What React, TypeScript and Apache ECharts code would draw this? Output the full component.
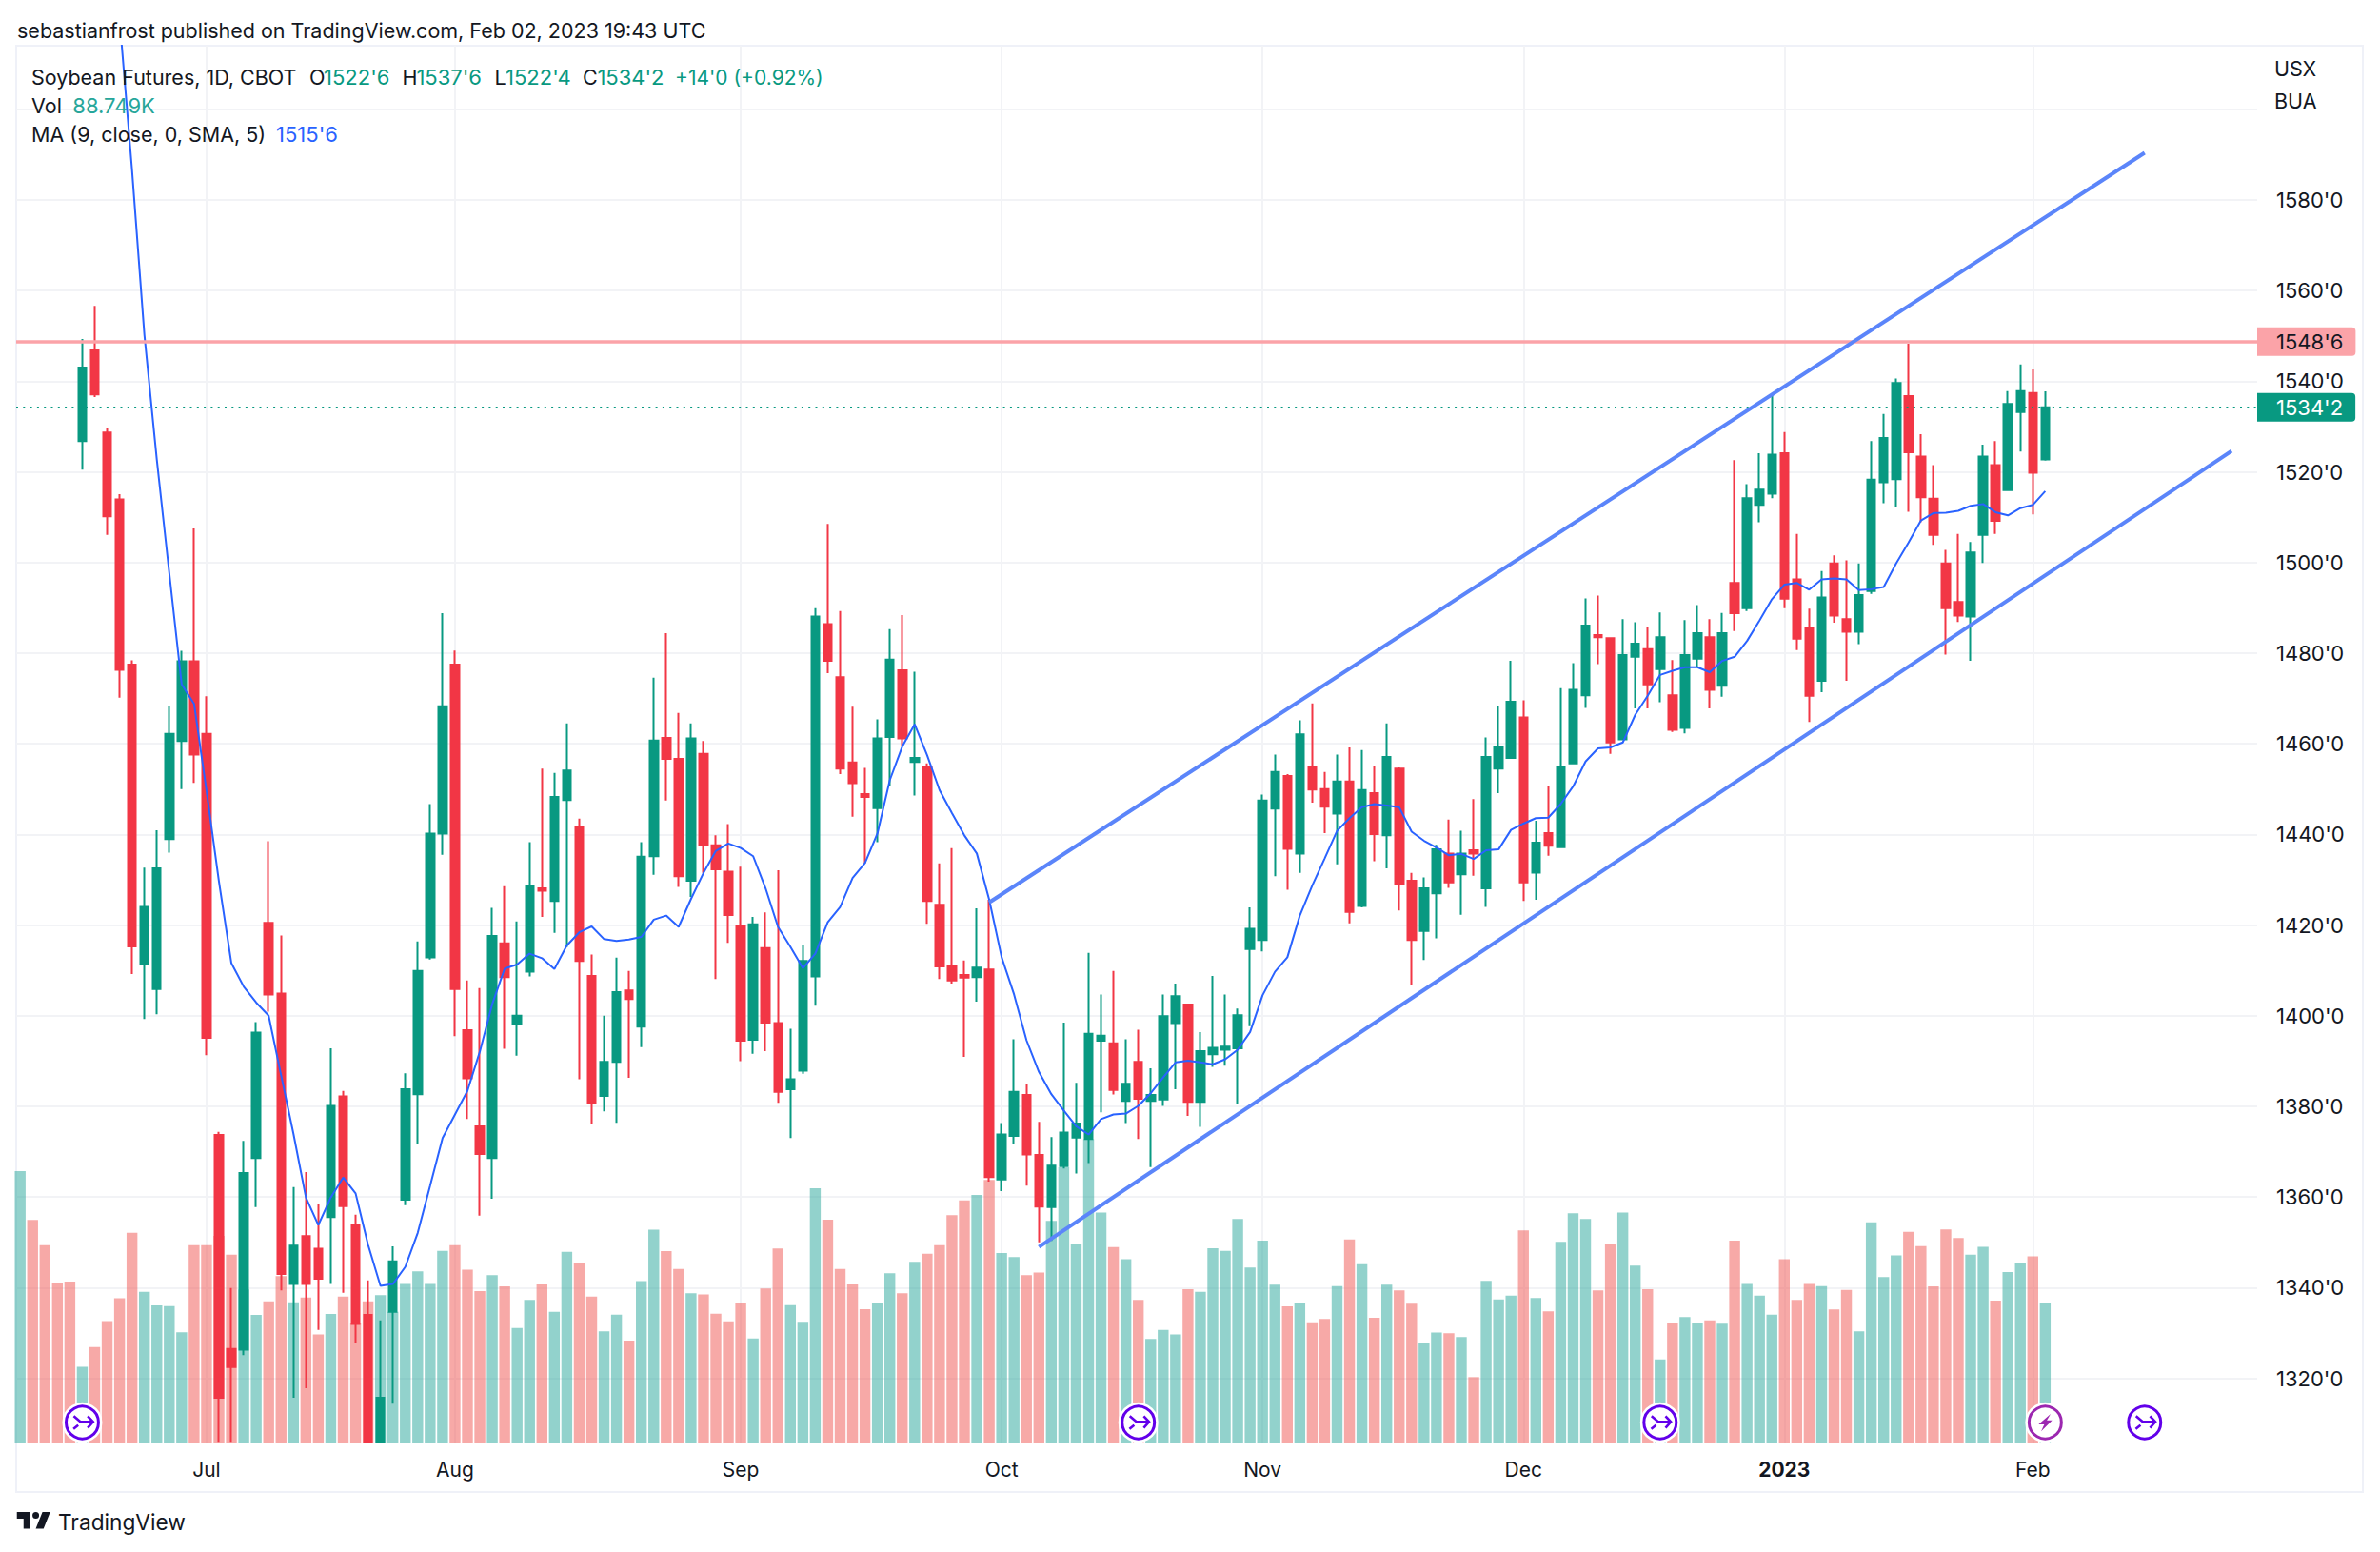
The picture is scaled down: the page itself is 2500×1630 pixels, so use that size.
import React, { useEffect, useRef } from "react";
import * as echarts from "echarts";

const GREEN = "#089981";
const RED = "#F23645";
const INK = "#131722";
const FONT = "Inter";

// One entry per session; the first five sessions trade above the visible price range.
const opens: (number | null)[] = [
  null, null, null, null, null,
  1526.8, 1546.8, 1528.7, 1513.9, 1477.5, 1411.3, 1405.9, 1439.0, 1460.6, 1478.2, 1462.2, 1373.7, 1326.5, 1326.3, 1368.6,
  1420.5, 1404.9, 1340.8, 1351.4, 1348.6, 1355.6, 1382.2, 1353.8, 1334.0, 1306.0, 1334.7, 1359.4, 1382.7, 1412.9, 1440.2, 1477.5,
  1396.8, 1375.6, 1368.6, 1416.0, 1398.2, 1409.7, 1428.1, 1425.3, 1447.6, 1441.6, 1408.8, 1382.3, 1389.8, 1405.6, 1397.6, 1435.2,
  1461.3, 1456.7, 1429.8, 1457.8, 1437.6, 1431.8, 1419.9, 1394.7, 1414.9, 1398.4, 1383.8, 1387.9, 1408.7, 1486.4, 1474.7, 1455.9,
  1448.9, 1445.8, 1461.5, 1476.2, 1456.0, 1454.8, 1424.5, 1411.0, 1409.0, 1408.5, 1410.2, 1363.9, 1373.5, 1382.5, 1369.3, 1357.8,
  1366.8, 1373.1, 1372.8, 1394.5, 1393.9, 1381.2, 1389.8, 1381.2, 1381.5, 1398.4, 1402.5, 1381.0, 1391.5, 1392.5, 1392.8, 1414.7,
  1416.7, 1445.7, 1452.9, 1435.8, 1454.8, 1450.0, 1444.6, 1451.7, 1424.2, 1449.1, 1439.8, 1454.5, 1429.8, 1418.7, 1427.0, 1435.8,
  1431.2, 1436.5, 1428.1, 1454.5, 1456.9, 1465.8, 1431.6, 1440.3, 1437.2, 1455.7, 1470.7, 1484.0, 1483.3, 1461.0, 1479.2, 1480.9,
  1476.5, 1470.7, 1463.5, 1478.8, 1483.5, 1472.8, 1495.5, 1489.9, 1512.7, 1515.2, 1524.1, 1496.3, 1485.5, 1473.9, 1499.8, 1487.5,
  1484.7, 1493.7, 1517.7, 1518.4, 1536.7, 1523.4, 1514.1, 1499.8, 1491.3, 1488.1, 1506.1, 1521.5, 1516.0, 1533.2, 1537.4, 1522.75,
];
const closes: (number | null)[] = [
  null, null, null, null, null,
  1543.0, 1537.1, 1510.2, 1476.3, 1415.3, 1424.0, 1432.5, 1462.2, 1478.2, 1457.6, 1395.1, 1315.7, 1322.5, 1365.3, 1396.3,
  1404.7, 1343.0, 1349.3, 1340.8, 1342.0, 1380.1, 1358.0, 1332.0, 1306.0, 1315.7, 1345.8, 1383.8, 1409.9, 1440.2, 1468.3, 1405.9,
  1386.2, 1369.5, 1417.6, 1408.5, 1400.0, 1428.6, 1427.6, 1448.3, 1454.1, 1412.1, 1380.8, 1389.8, 1405.2, 1403.7, 1435.1, 1460.7,
  1456.7, 1430.8, 1461.2, 1437.6, 1432.3, 1422.2, 1394.5, 1420.2, 1398.5, 1383.2, 1386.0, 1412.1, 1488.1, 1478.3, 1454.5, 1451.3,
  1448.3, 1461.2, 1478.6, 1461.2, 1456.9, 1425.3, 1410.9, 1407.8, 1408.4, 1410.6, 1364.4, 1373.8, 1383.2, 1369.4, 1357.9, 1366.9,
  1374.2, 1376.2, 1396.0, 1395.6, 1383.6, 1385.0, 1381.7, 1382.5, 1399.9, 1404.3, 1381.0, 1392.2, 1392.9, 1393.2, 1400.1, 1419.2,
  1447.5, 1453.8, 1436.8, 1462.1, 1449.9, 1446.1, 1451.7, 1422.9, 1449.8, 1440.1, 1457.1, 1429.1, 1416.7, 1428.1, 1436.7, 1429.4,
  1435.8, 1435.8, 1457.1, 1459.3, 1469.3, 1429.4, 1438.2, 1437.5, 1454.8, 1471.9, 1486.1, 1483.5, 1460.3, 1479.6, 1482.1, 1473.1,
  1483.5, 1463.1, 1479.6, 1484.4, 1471.9, 1484.4, 1488.8, 1514.2, 1516.1, 1523.8, 1492.0, 1483.2, 1470.6, 1492.3, 1488.3, 1484.7,
  1492.8, 1518.3, 1527.5, 1539.6, 1524.3, 1514.4, 1506.1, 1489.9, 1488.3, 1502.2, 1523.4, 1509.2, 1535.0, 1537.8, 1519.8, 1534.25,
];
const lows: (number | null)[] = [
  null, null, null, null, null,
  1520.5, 1536.5, 1506.1, 1470.2, 1409.2, 1399.3, 1400.3, 1436.0, 1450.0, 1451.4, 1391.3, 1306.0, 1306.0, 1325.1, 1357.8,
  1400.9, 1339.4, 1315.7, 1317.8, 1330.7, 1340.8, 1338.9, 1327.7, 1306.0, 1306.0, 1314.4, 1358.2, 1371.8, 1412.4, 1435.5, 1395.5,
  1377.2, 1355.9, 1359.6, 1392.7, 1391.2, 1408.7, 1421.8, 1418.3, 1415.2, 1386.0, 1376.0, 1378.9, 1376.4, 1386.3, 1393.1, 1431.1,
  1447.5, 1428.4, 1426.2, 1431.5, 1408.1, 1416.1, 1390.0, 1391.6, 1392.2, 1380.8, 1373.0, 1387.2, 1402.2, 1475.6, 1453.3, 1443.9,
  1433.6, 1438.3, 1450.6, 1459.4, 1448.6, 1420.3, 1408.1, 1407.1, 1390.9, 1403.1, 1363.4, 1361.3, 1371.7, 1362.5, 1350.0, 1350.3,
  1366.3, 1365.2, 1367.5, 1378.7, 1382.6, 1376.3, 1372.8, 1366.6, 1380.1, 1383.8, 1377.9, 1375.5, 1388.7, 1389.0, 1380.4, 1397.7,
  1414.2, 1430.8, 1427.8, 1431.5, 1447.0, 1440.3, 1433.4, 1420.4, 1423.9, 1434.1, 1432.5, 1423.2, 1406.9, 1412.3, 1417.1, 1428.2,
  1422.3, 1430.9, 1424.0, 1449.1, 1456.7, 1425.3, 1425.6, 1435.3, 1437.0, 1455.5, 1467.9, 1477.6, 1457.8, 1460.8, 1467.8, 1467.8,
  1469.2, 1462.6, 1462.3, 1476.9, 1467.8, 1470.4, 1484.9, 1489.3, 1508.9, 1514.2, 1489.9, 1480.7, 1464.8, 1471.4, 1486.7, 1473.9,
  1482.0, 1493.1, 1513.1, 1512.3, 1511.2, 1508.9, 1503.9, 1479.7, 1486.9, 1478.3, 1499.9, 1506.3, 1515.9, 1524.5, 1510.6, 1522.5,
];
const highs: (number | null)[] = [
  null, null, null, null, null,
  1549.3, 1556.6, 1529.6, 1515.1, 1478.4, 1432.7, 1440.9, 1468.4, 1480.5, 1507.5, 1470.5, 1374.4, 1339.9, 1372.4, 1398.6,
  1438.5, 1417.7, 1362.2, 1365.5, 1358.4, 1392.8, 1383.4, 1356.1, 1341.6, 1332.8, 1349.1, 1387.3, 1416.4, 1446.7, 1488.8, 1480.6,
  1407.8, 1406.1, 1423.8, 1428.6, 1420.8, 1438.3, 1454.5, 1453.6, 1464.5, 1443.5, 1413.5, 1400.0, 1412.8, 1409.9, 1438.3, 1474.6,
  1484.4, 1466.8, 1464.5, 1460.6, 1439.8, 1442.3, 1432.9, 1421.8, 1422.8, 1432.1, 1397.1, 1415.5, 1489.9, 1508.5, 1489.3, 1468.2,
  1454.7, 1465.4, 1485.3, 1488.4, 1475.9, 1455.7, 1433.6, 1437.0, 1412.2, 1423.7, 1425.6, 1376.3, 1394.8, 1385.0, 1376.6, 1373.2,
  1398.5, 1385.2, 1413.9, 1404.7, 1409.9, 1394.8, 1396.9, 1388.4, 1404.7, 1407.1, 1402.5, 1396.4, 1408.8, 1404.7, 1401.6, 1423.9,
  1448.8, 1457.6, 1453.3, 1465.2, 1468.9, 1453.8, 1457.6, 1459.2, 1458.6, 1455.1, 1464.5, 1454.8, 1431.5, 1430.5, 1437.7, 1443.3,
  1440.8, 1447.8, 1461.4, 1468.3, 1478.3, 1469.6, 1443.0, 1450.7, 1472.3, 1477.8, 1492.1, 1492.7, 1483.3, 1487.5, 1486.8, 1485.9,
  1489.0, 1478.5, 1487.3, 1490.6, 1487.5, 1488.9, 1522.6, 1517.3, 1524.1, 1537.3, 1528.8, 1506.3, 1489.8, 1498.1, 1501.6, 1500.5,
  1499.8, 1526.8, 1532.8, 1540.6, 1548.3, 1528.3, 1521.5, 1502.8, 1506.3, 1504.5, 1526.0, 1526.8, 1537.8, 1543.7, 1542.6, 1537.75,
];
// Volume in thousands of contracts.
const volumes: number[] = [
  171.6, 140.8, 124.9, 101, 102, 48.3, 60.7, 77.1, 91.5, 132.8, 95.5, 87, 86.6, 70.1, 124.9, 124.9, 130.8, 118.9, 97, 81,
  89.6, 105.5, 89, 92, 68.7, 81.6, 92.5, 75.6, 89.6, 93.5, 83, 100.5, 108.5, 100.5, 121.4, 124.9, 109.5, 96, 106, 99,
  72.8, 90.5, 100.2, 82.9, 120.8, 113.6, 92.6, 70.7, 81.2, 64.8, 102.3, 134.7, 121.2, 109.9, 94.7, 93.9, 81.7, 77, 88.8, 66.1,
  97.6, 122.9, 87.1, 76.6, 160.8, 141, 109.9, 100.2, 84.6, 88.4, 107.3, 94.7, 114.5, 119.5, 125, 143.9, 153.2, 156.6, 166, 120,
  117.4, 106, 107.7, 140.2, 174, 125.8, 191.7, 145.5, 123.8, 116.1, 90.4, 65.9, 71.5, 68.7, 97.2, 95.6, 123, 121.3, 141.4, 110.9,
  127.8, 100, 86.4, 88.4, 76.3, 78.4, 99.2, 128.6, 112.9, 79.2, 100, 96.4, 88, 63.5, 69.9, 69.5, 67.1, 41.8, 102.5, 90.8,
  93.2, 134.2, 91.6, 83.2, 127, 145, 141.4, 96.4, 125.8, 145.5, 112.1, 97.2, 53, 75.9, 79.6, 75.9, 77.5, 75.5, 127.8, 100.5,
  93.2, 81.2, 116.1, 90.4, 100.5, 99.2, 84.4, 96.8, 70.7, 139.4, 104.9, 118.5, 133.3, 124.4, 99, 134.8, 129.4, 118.9, 123.9, 90,
  108, 113.9, 117.9, 88.749,
];
// Direction of the five sessions whose candles are off the chart (true = up).
const headUp: boolean[] = [true, false, false, false, false];
// 9-period moving average, first visible point at session 8.
const maStart = 8;
const maValues: number[] = [
  1620, 1586.7, 1550.2, 1522.6, 1497.7, 1473.1, 1468.8, 1449.6, 1429.6, 1411.6, 1406.4, 1402.9, 1400, 1386.9, 1373.9, 1359.9,
  1353.8, 1359.9, 1364.3, 1360.8, 1349.5, 1340.4, 1340.8, 1344.6, 1352.1, 1362.5, 1373, 1378.2, 1383.4, 1392.1, 1402.6, 1410.4,
  1411.3, 1413.7, 1412.7, 1410.3, 1415.5, 1418.4, 1419.7, 1416.9, 1416.5, 1416.8, 1417.4, 1421.2, 1422.1, 1419.6, 1425.8, 1431.5,
  1436.4, 1438, 1437, 1435.2, 1428.1, 1419.6, 1415.2, 1410.5, 1413.7, 1420.6, 1424, 1430.4, 1433.7, 1440.2, 1452, 1459.4,
  1464.3, 1457.5, 1449.8, 1444.7, 1439.8, 1435.8, 1425.6, 1412.9, 1404.7, 1394.6, 1387.6, 1382.7, 1379.1, 1375.6, 1373.8, 1377.2,
  1378.2, 1378.4, 1380.1, 1382.9, 1386.4, 1389.7, 1390.1, 1389.7, 1389.3, 1390.4, 1392.5, 1396.4, 1404.5, 1409.7, 1412.9, 1422.1,
  1428.7, 1434.7, 1440.8, 1443.6, 1446, 1446.7, 1446.4, 1446, 1440.6, 1438.6, 1437.1, 1435.4, 1435.7, 1434.6, 1436.5, 1436.7,
  1441, 1442.4, 1443.6, 1443.7, 1446.7, 1450.6, 1456.1, 1459, 1459.2, 1460.3, 1466.4, 1470.6, 1475.2, 1476.1, 1476.9, 1476.9,
  1475.8, 1478.3, 1479.2, 1482.7, 1487.2, 1491.9, 1495.1, 1495.5, 1494, 1496.3, 1496.5, 1496.3, 1493.9, 1494.1, 1494.6, 1499.8,
  1504.4, 1509.3, 1510.9, 1511, 1511.4, 1512.5, 1512.9, 1511.1, 1510.4, 1512, 1512.7, 1515.75,
];
// Session index, price of the two drawn channel lines.
const channelUpper: [number, number][] = [[78, 1425], [171, 1590.4]];
const channelLower: [number, number][] = [[82, 1349], [178, 1524.6]];
const resistance = 1548.75;
const resistanceLabel = "1548'6";
const lastPrice = 1534.25;
const lastPriceLabel = "1534'2";
const priceTicks: number[] = [1320, 1340, 1360, 1380, 1400, 1420, 1440, 1460, 1480, 1500, 1520, 1540, 1560, 1580, 1600];
const priceTickLabels: number[] = [1320, 1340, 1360, 1380, 1400, 1420, 1440, 1460, 1480, 1500, 1520, 1540, 1560, 1580];
const monthIdx: number[] = [15, 35, 58, 79, 100, 121, 142, 162];
const monthNames: string[] = ["Jul", "Aug", "Sep", "Oct", "Nov", "Dec", "2023", "Feb"];
const slotCount = 181;
// [session index, price on the axis, kind]
const eventMarks: [number, number, number][] = [
  [5, 1310.25, 0], [90, 1310.25, 0], [132, 1310.25, 0], [163, 1310.25, 1], [171, 1310.25, 0],
];

const PRICE_MIN = 1305.63;
const PRICE_MAX = 1614.03;

const LOGO = "M14 6H2v6h6v9h6V6Zm12 15h-7l6-15h7l-6 15Zm-7-9a3 3 0 1 0 0-6 3 3 0 0 0 0 6Z";

export default function App() {
  const ref = useRef<HTMLDivElement>(null);
  useEffect(() => {
    document.body.style.margin = "0";
    document.body.style.background = "#fff";
    echarts.graphic.registerShape("tvlogo", echarts.graphic.extendPath(LOGO as any, {} as any) as any);
    const chart = echarts.init(ref.current!, undefined, { renderer: "svg" });

    const categories = Array.from({ length: slotCount }, (_, i) => {
      const k = monthIdx.indexOf(i);
      return k >= 0 ? monthNames[k] : "";
    });
    const candleData = opens.map((o, i) =>
      o === null ? ["-", "-", "-", "-"] : [o, closes[i], lows[i], highs[i]]
    );
    const volData = volumes.map((v, i) => {
      const up = i < headUp.length ? headUp[i] : (closes[i] as number) >= (opens[i] as number);
      return { value: v, itemStyle: { color: up ? "rgba(38,166,154,0.5)" : "rgba(239,83,80,0.5)" } };
    });
    const maData = maValues.map((v, i) => [maStart + i, v]);

    const txt = (x: number, y: number, text: string, fill = INK, size = 21.5, extra: any = {}) => ({
      type: "text",
      x,
      y,
      z: 20,
      silent: true,
      style: { text, fill, font: `${size}px ${FONT}`, textVerticalAlign: "middle", verticalAlign: "middle", ...extra },
    });

    const TOP = 48;
    const BOTTOM = 1516;
    const GRIDCOL = "#f2f3f6";
    chart.setOption({
      animation: false,
      backgroundColor: "#ffffff",
      grid: [
        { left: 17, top: TOP, width: 2354, height: BOTTOM - TOP, containLabel: false },
        { left: 21.2, top: TOP, width: 13.05 * (slotCount - 1), height: BOTTOM - TOP, containLabel: false },
      ],
      xAxis: [
        { type: "value", gridIndex: 0, min: 0, max: 1, show: false },
        {
          type: "category",
          gridIndex: 1,
          data: categories,
          boundaryGap: false,
          axisLine: { show: false },
          axisTick: { show: false, interval: (i: number) => monthIdx.includes(i) },
          axisLabel: {
            interval: (i: number) => monthIdx.includes(i),
            hideOverlap: false,
            showMinLabel: true,
            showMaxLabel: true,
            margin: 17,
            fontFamily: FONT,
            fontSize: 21,
            color: INK,
            formatter: (v: string) => (v === "2023" ? `{b|${v}}` : v),
            rich: { b: { fontFamily: FONT, fontSize: 21, fontWeight: 700, color: INK } },
          },
          splitLine: {
            show: true,
            interval: (i: number) => monthIdx.includes(i),
            lineStyle: { color: GRIDCOL, width: 2 },
          },
        },
      ],
      yAxis: [
        {
          type: "value",
          gridIndex: 0,
          position: "right",
          min: PRICE_MIN,
          max: PRICE_MAX,
          axisLine: { show: false },
          axisTick: { show: false, customValues: priceTicks },
          axisLabel: {
            customValues: priceTickLabels,
            margin: 20,
            fontFamily: FONT,
            fontSize: 22,
            color: INK,
            align: "left",
            formatter: (v: number) => `${v}'0`,
          },
          splitLine: { show: true, lineStyle: { color: GRIDCOL, width: 2 } },
        },
        { type: "value", gridIndex: 1, min: PRICE_MIN, max: PRICE_MAX, show: false, splitLine: { show: false } },
        { type: "value", gridIndex: 1, min: 0, max: 880.8, show: false, splitLine: { show: false } },
      ],
      series: [
        {
          type: "bar",
          name: "Vol",
          xAxisIndex: 1,
          yAxisIndex: 2,
          data: volData,
          barWidth: 11.4,
          clip: false,
          z: 2,
        },
        {
          type: "candlestick",
          name: "Soybean Futures",
          xAxisIndex: 1,
          yAxisIndex: 1,
          data: candleData,
          barWidth: 9,
          clip: true,
          itemStyle: { color: GREEN, color0: RED, borderColor: GREEN, borderColor0: RED, borderWidth: 2 },
          z: 3,
        },
        {
          type: "line",
          name: "MA",
          xAxisIndex: 1,
          yAxisIndex: 1,
          data: maData,
          showSymbol: false,
          clip: true,
          lineStyle: { color: "#2962FF", width: 2 },
          z: 4,
        },
        ...[channelUpper, channelLower].map((d) => ({
          type: "line",
          xAxisIndex: 1,
          yAxisIndex: 1,
          data: d,
          showSymbol: false,
          clip: true,
          lineStyle: { color: "#5B85FA", width: 4 },
          z: 5,
        })),
        {
          type: "line",
          xAxisIndex: 0,
          yAxisIndex: 0,
          data: [],
          z: 6,
          silent: true,
          markLine: {
            silent: true,
            symbol: "none",
            animation: false,
            data: [
              {
                yAxis: resistance,
                lineStyle: { color: "#FBA3A8", width: 3.5, type: "solid" },
                label: {
                  show: true,
                  position: "end",
                  formatter: resistanceLabel,
                  distance: 0,
                  fontFamily: FONT,
                  fontSize: 22,
                  color: INK,
                  backgroundColor: "#FBA3A8",
                  padding: [4, 13, 4, 20],
                  borderRadius: [0, 4, 4, 0],
                },
              },
              {
                yAxis: lastPrice,
                lineStyle: { color: GREEN, width: 2, type: [2, 5.3] },
                label: {
                  show: true,
                  position: "end",
                  formatter: lastPriceLabel,
                  distance: 0,
                  fontFamily: FONT,
                  fontSize: 22,
                  color: "#ffffff",
                  backgroundColor: GREEN,
                  padding: [4, 13, 4, 20],
                  borderRadius: [0, 4, 4, 0],
                },
              },
            ],
          },
        },
        {
          type: "custom",
          xAxisIndex: 1,
          yAxisIndex: 1,
          data: eventMarks,
          clip: false,
          silent: true,
          z: 7,
          renderItem: (_: any, api: any) => {
            const [cx, cy] = api.coord([api.value(0), api.value(1)]);
            const kind = api.value(2);
            const col = kind === 1 ? "#9C27B0" : "#6200EA";
            const children: any[] = [
              { type: "circle", shape: { cx, cy, r: 18 }, style: { fill: "#fff", stroke: "#fff", lineWidth: 6 } },
              { type: "circle", shape: { cx, cy, r: 17 }, style: { fill: "#fff", stroke: col, lineWidth: 3 } },
            ];
            if (kind === 1) {
              const pts = [[5.7, -9], [-7, 2], [-1, 2], [-4.3, 9.3], [7.3, -2.3], [1.7, -2.3]];
              children.push({
                type: "polygon",
                shape: { points: pts.map(([a, b]) => [cx + a, cy + b]) },
                style: { fill: col },
              });
            } else {
              const rel = (p: number[][]) => p.map(([a, b]) => [cx + a, cy + b]);
              const s = { fill: "none", stroke: col, lineWidth: 2.6 };
              children.push(
                { type: "polyline", shape: { points: rel([[-9, -6.7], [-2, -0.7], [11.3, -0.7]]) }, style: s },
                { type: "polyline", shape: { points: rel([[5.7, -6.7], [11.3, -0.7], [5.7, 5.5]]) }, style: s },
                { type: "polyline", shape: { points: rel([[-9.3, 6.7], [-4.3, 2.7]]) }, style: s }
              );
            }
            return { type: "group", children };
          },
        },
      ],
      graphic: [
        {
          type: "rect",
          z: -1,
          silent: true,
          shape: { x: 17, y: 48, width: 2465, height: 1519 },
          style: { fill: "none", stroke: "#eff1f8", lineWidth: 2 },
        },
        txt(18, 32, "sebastianfrost published on TradingView.com, Feb 02, 2023 19:43 UTC"),
        txt(33, 81, "Soybean Futures, 1D, CBOT"),
        txt(325, 81, "O"),
        txt(340, 81, "1522'6", GREEN, 22),
        txt(422.5, 81, "H"),
        txt(437.4, 81, "1537'6", GREEN, 22),
        txt(519.5, 81, "L"),
        txt(531, 81, "1522'4", GREEN, 22),
        txt(612, 81, "C"),
        txt(627.4, 81, "1534'2", GREEN, 22),
        txt(709, 81, "+14'0 (+0.92%)", GREEN, 21),
        txt(33, 111, "Vol"),
        txt(76.3, 111, "88.749K", "#26A69A", 22),
        txt(33, 141, "MA (9, close, 0, SMA, 5)"),
        txt(290, 141, "1515'6", "#2962FF", 22),
        txt(2389, 72, "USX", INK, 21.5),
        txt(2389, 106, "BUA", INK, 21.5),
        { type: "tvlogo", x: 15.4, y: 1581, scaleX: 1.167, scaleY: 1.167, silent: true, z: 20, style: { fill: INK } },
        txt(61, 1598, "TradingView", INK, 22.7),
      ],
    });
    return () => chart.dispose();
  }, []);
  return <div ref={ref} style={{ position: "absolute", left: 0, top: 0, width: 2500, height: 1630 }} />;
}
